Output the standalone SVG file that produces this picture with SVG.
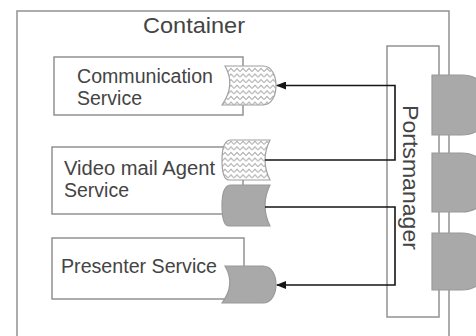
<svg xmlns="http://www.w3.org/2000/svg" width="476" height="336" viewBox="0 0 476 336">
<style>
.box{fill:#fff;stroke:#8a8a8a;stroke-width:1.4}
.lbl{font-family:"Liberation Sans",Arial,sans-serif;font-size:19.5px;fill:#444}
.big{font-family:"Liberation Sans",Arial,sans-serif;font-size:22px;fill:#444}
.grey{fill:#a9a9a9;stroke:#999;stroke-width:1.2}
.zig{fill:url(#zz);stroke:#a0a0a0;stroke-width:1.2}
.con{fill:none;stroke:#151515;stroke-width:1.6}
</style>
<defs>
<pattern id="zz" patternUnits="userSpaceOnUse" width="6" height="5.6">
<rect width="6" height="5.6" fill="#fff"/>
<path d="M0,4.4 L3,1.2 L6,4.4" fill="none" stroke="#a8a8a8" stroke-width="1"/>
</pattern>
<marker id="ah" markerWidth="10" markerHeight="8" refX="9" refY="4" orient="auto" markerUnits="userSpaceOnUse">
<path d="M0,0 L10,4 L0,8 Z" fill="#151515"/>
</marker>
</defs>
<rect width="476" height="336" fill="#fff"/>
<g id="container">
<rect class="box" x="17" y="11" width="432" height="340"/>
<text class="big" x="194" y="33" text-anchor="middle" textLength="102" lengthAdjust="spacingAndGlyphs">Container</text>
</g>
<g id="portsmanager">
<rect class="box" x="387" y="46" width="52" height="271"/>
<text class="big" transform="translate(403,177.5) rotate(90)" text-anchor="middle" textLength="145" lengthAdjust="spacingAndGlyphs">Portsmanager</text>
<path class="grey" d="M432,75 H462 A30,30 0 0 1 462,135 H432 Z"/>
<path class="grey" d="M432,153 H462 A29.5,29.5 0 0 1 462,212 H432 Z"/>
<path class="grey" d="M432,233 H462 A28.5,28.5 0 0 1 462,290 H432 Z"/>
</g>
<g id="communication-service">
<rect class="box" x="54" y="57" width="189" height="58"/>
<text class="lbl" x="77" y="83" textLength="136" lengthAdjust="spacingAndGlyphs">Communication</text>
<text class="lbl" x="77" y="105">Service</text>
<path class="zig" d="M225,66 H263 C272,66 276,76 276,85.5 C276,95 272,105 263,105 H222 Q236,85 225,66 Z"/>
</g>
<g id="video-mail-agent-service">
<rect class="box" x="52" y="147" width="191" height="67"/>
<text class="lbl" x="64" y="175" textLength="151" lengthAdjust="spacingAndGlyphs">Video mail Agent</text>
<text class="lbl" x="64" y="197">Service</text>
<path class="zig" d="M231,140 H270 Q260,160 270,180 H229 C224,180 222,172 222,160 C222,148 224,140 231,140 Z"/>
<path class="grey" d="M231,185 H270 Q260,205.5 270,226 H229 C224,226 222,217 222,205.5 C222,194 224,185 231,185 Z"/>
</g>
<g id="presenter-service">
<rect class="box" x="52" y="238" width="192" height="61"/>
<text class="lbl" x="61" y="273" textLength="156" lengthAdjust="spacingAndGlyphs">Presenter Service</text>
<path class="grey" d="M225,266 H263 C272,266 276,276 276,284.5 C276,293 272,303 263,303 H222 Q236,284.5 225,266 Z"/>
</g>
<g id="connectors">
<path class="con" d="M265,160 H395 V85.5 H277" marker-end="url(#ah)"/>
<path class="con" d="M265,207 H395 V285 H277" marker-end="url(#ah)"/>
</g>
</svg>
